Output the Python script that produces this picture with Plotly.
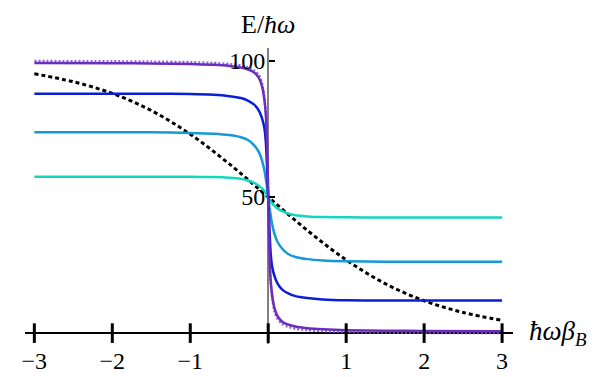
import plotly.graph_objects as go

# ---- data ----
x_curve = [-3, -2, -1.5, -1, -0.7, -0.5, -0.35, -0.25, -0.18, -0.12, -0.08, -0.05, -0.03, -0.015, 0,
           0.015, 0.03, 0.05, 0.08, 0.12, 0.18, 0.25, 0.35, 0.5, 0.7, 1, 1.5, 2, 3]
e_cyan = [57.5, 57.5, 57.5, 57.45, 57.35, 57.1, 56.7, 56.0, 55.2, 54.2, 53.2, 52.3, 51.5, 50.8, 50,
          49.2, 48.5, 47.7, 46.8, 45.8, 44.8, 44.0, 43.3, 42.9, 42.65, 42.55, 42.5, 42.5, 42.5]
e_lightblue = [73.8, 73.8, 73.8, 73.6, 73.3, 72.8, 72.0, 70.8, 69.0, 66.5, 63.5, 60.0, 56.5, 53.5, 50,
               46.5, 43.5, 40.0, 36.5, 33.5, 31.0, 29.2, 28.0, 27.2, 26.7, 26.4, 26.2, 26.2, 26.2]
e_blue = [88, 88, 88, 87.9, 87.6, 87.1, 86.4, 85.3, 84.0, 81.8, 79.0, 75.5, 70.0, 61.0, 50,
          39.0, 30.0, 24.5, 21.0, 18.2, 16.0, 14.7, 13.6, 12.9, 12.4, 12.1, 12.0, 12.0, 12.0]
e_purple = [99.3, 99.2, 99.1, 98.9, 98.6, 98.2, 97.6, 96.8, 95.8, 93.8, 90.8, 86.0, 80.0, 70.0, 50,
            30.0, 20.0, 14.0, 9.2, 6.2, 4.2, 3.2, 2.4, 1.8, 1.4, 1.1, 0.9, 0.8, 0.7]
e_purple_dotted = [100, 99.9, 99.8, 99.6, 99.3, 98.9, 98.4, 97.6, 96.6, 94.8, 92.0, 87.0, 81.0, 71.0, 50,
                   29.0, 19.0, 13.0, 8.0, 5.2, 3.4, 2.4, 1.6, 1.1, 0.7, 0.4, 0.2, 0.1, 0.0]

x_black = [-3, -2.5, -2, -1.5, -1, -0.5, 0, 0.5, 1, 1.5, 2, 2.5, 3]
e_black = [95.3, 92.4, 88.1, 81.8, 73.1, 62.2, 50, 37.8, 26.9, 18.2, 11.9, 7.6, 4.7]

x_ticks = [-3, -2, -1, 0, 1, 2, 3]
x_label_vals = [-3, -2, -1, 1, 2, 3]
x_tick_labels = ["−3", "−2", "−1", "1", "2", "3"]
y_ticks = [50, 100]
y_tick_labels = ["50", "100"]

FONT = "Liberation Serif, Tinos, Times New Roman, DejaVu Serif, serif"

fig = go.Figure()

fig.add_trace(go.Scatter(x=x_curve, y=e_purple_dotted, mode="lines",
                         line=dict(color="rgba(125,80,205,0.85)", width=2.5, dash="2px,2px",
                                   shape="spline", smoothing=0.5),
                         hoverinfo="skip"))
fig.add_trace(go.Scatter(x=x_black, y=e_black, mode="lines",
                         line=dict(color="black", width=3, dash="4px,3px", shape="spline"),
                         hoverinfo="skip"))
for ys, col in [(e_cyan, "#14d6bf"), (e_lightblue, "#1798d8"), (e_blue, "#0a1ed6"),
                (e_purple, "#6a2dbe")]:
    fig.add_trace(go.Scatter(x=x_curve, y=ys, mode="lines",
                             line=dict(color=col, width=2.5, shape="spline", smoothing=0.5),
                             hoverinfo="skip"))

# x tick marks crossing the horizontal axis
fig.add_trace(go.Scatter(x=x_ticks, y=[0] * len(x_ticks), mode="markers",
                         marker=dict(symbol="line-ns", size=14, line=dict(color="black", width=3)),
                         hoverinfo="skip", cliponaxis=False))

# page body has an ~8px margin: compensate so the plot sits where the reference has it
fig.update_layout(
    width=593, height=369,
    margin=dict(l=17, r=88, t=40, b=33),
    paper_bgcolor="white", plot_bgcolor="white",
    showlegend=False,
    font=dict(family=FONT, size=24, color="black"),
    xaxis=dict(range=[-3.12, 3.14], showgrid=False, showline=False, automargin=False,
               zeroline=True, zerolinecolor="#808080", zerolinewidth=2,
               tickvals=x_label_vals, ticktext=x_tick_labels, ticks="",
               tickfont=dict(family=FONT, size=24)),
    yaxis=dict(range=[-4.0, 104.8], showgrid=False, automargin=False,
               zeroline=True, zerolinecolor="black", zerolinewidth=2,
               showline=False, anchor="free", position=0.4984,
               tickvals=y_ticks, ticktext=y_tick_labels, ticks="inside", ticklen=6,
               tickwidth=1.5, tickcolor="black", ticklabelstandoff=3,
               tickfont=dict(family=FONT, size=24)),
    annotations=[
        dict(x=0.4984, y=1.0, xref="paper", yref="paper", yshift=24, text="E/<i>ħω</i>",
             showarrow=False, xanchor="center", yanchor="middle", font=dict(family=FONT, size=26)),
        dict(x=1.0, y=4.0 / 108.8, xref="paper", yref="paper", xshift=14,
             text="<i>ħωβ</i><sub><i>B</i></sub>", showarrow=False,
             xanchor="left", yanchor="middle", font=dict(family=FONT, size=27)),
    ],
)

fig.write_html("out.html")
